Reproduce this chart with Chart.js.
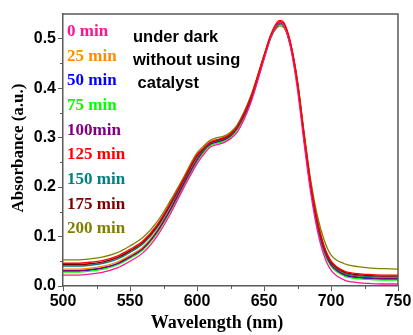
<!DOCTYPE html>
<html>
<head>
<meta charset="utf-8">
<script src="https://cdn.jsdelivr.net/npm/chart.js@4"></script>
<style>
  html, body { margin: 0; padding: 0; background: #fff; }
  #wrap { width: 413px; height: 335px; }
</style>
</head>
<body>
<div id="wrap"><canvas id="chart" width="413" height="335"></canvas></div>
<script>
const wavelengths = [500, 510, 520, 530, 540, 550, 560, 570, 580, 590, 600, 605, 610, 615, 620, 625, 630, 640, 650, 655, 660, 662, 665, 670, 675, 680, 685, 690, 695, 700, 710, 720, 730, 740, 750];

const seriesNames = ['0 min', '25 min', '50 min', '75 min', '100min', '125 min', '150 min', '175 min', '200 min'];
const seriesColors = ['#ff1493', '#ff8c00', '#0000ff', '#00ff00', '#800080', '#ff0000', '#008080', '#800000', '#808000'];

const abs0 = [0.022, 0.022, 0.024, 0.028, 0.036, 0.050, 0.068, 0.100, 0.145, 0.198, 0.247, 0.266, 0.281, 0.286, 0.290, 0.298, 0.311, 0.369, 0.458, 0.502, 0.529, 0.533, 0.527, 0.480, 0.397, 0.287, 0.186, 0.110, 0.060, 0.032, 0.012, 0.007, 0.005, 0.004, 0.004];
const abs25 = [0.034, 0.034, 0.036, 0.040, 0.048, 0.062, 0.080, 0.112, 0.157, 0.208, 0.257, 0.276, 0.289, 0.294, 0.298, 0.306, 0.321, 0.376, 0.463, 0.505, 0.531, 0.535, 0.529, 0.486, 0.407, 0.297, 0.196, 0.122, 0.072, 0.044, 0.024, 0.019, 0.017, 0.016, 0.016];
const abs50 = [0.030, 0.030, 0.032, 0.036, 0.044, 0.058, 0.076, 0.108, 0.153, 0.205, 0.254, 0.273, 0.286, 0.291, 0.295, 0.303, 0.318, 0.374, 0.461, 0.503, 0.528, 0.532, 0.527, 0.484, 0.406, 0.296, 0.195, 0.120, 0.070, 0.042, 0.022, 0.017, 0.015, 0.014, 0.014];
const abs75 = [0.028, 0.028, 0.030, 0.034, 0.042, 0.056, 0.074, 0.106, 0.151, 0.203, 0.252, 0.271, 0.284, 0.289, 0.293, 0.301, 0.316, 0.373, 0.460, 0.501, 0.526, 0.530, 0.525, 0.482, 0.404, 0.294, 0.193, 0.118, 0.068, 0.040, 0.020, 0.015, 0.013, 0.012, 0.012];
const abs100 = [0.031, 0.031, 0.033, 0.037, 0.045, 0.059, 0.077, 0.109, 0.154, 0.206, 0.255, 0.274, 0.287, 0.292, 0.296, 0.304, 0.319, 0.375, 0.462, 0.503, 0.527, 0.531, 0.526, 0.484, 0.407, 0.297, 0.196, 0.121, 0.071, 0.043, 0.023, 0.018, 0.016, 0.015, 0.015];
const abs125 = [0.046, 0.046, 0.048, 0.052, 0.060, 0.074, 0.092, 0.123, 0.167, 0.216, 0.265, 0.279, 0.291, 0.296, 0.300, 0.308, 0.323, 0.381, 0.466, 0.508, 0.534, 0.537, 0.532, 0.490, 0.413, 0.305, 0.205, 0.130, 0.080, 0.051, 0.030, 0.025, 0.023, 0.022, 0.022];
const abs150 = [0.040, 0.040, 0.042, 0.046, 0.054, 0.068, 0.086, 0.117, 0.162, 0.212, 0.261, 0.276, 0.289, 0.294, 0.298, 0.306, 0.321, 0.379, 0.464, 0.503, 0.526, 0.530, 0.525, 0.485, 0.409, 0.301, 0.201, 0.126, 0.076, 0.047, 0.026, 0.021, 0.019, 0.018, 0.018];
const abs175 = [0.043, 0.043, 0.045, 0.049, 0.057, 0.071, 0.089, 0.120, 0.165, 0.214, 0.263, 0.278, 0.290, 0.295, 0.299, 0.307, 0.322, 0.380, 0.465, 0.506, 0.530, 0.534, 0.529, 0.488, 0.412, 0.304, 0.203, 0.128, 0.078, 0.049, 0.028, 0.023, 0.021, 0.020, 0.020];
const abs200 = [0.053, 0.053, 0.055, 0.059, 0.067, 0.081, 0.099, 0.129, 0.172, 0.220, 0.269, 0.283, 0.295, 0.300, 0.303, 0.311, 0.326, 0.383, 0.466, 0.504, 0.523, 0.526, 0.522, 0.486, 0.415, 0.309, 0.212, 0.140, 0.092, 0.063, 0.045, 0.039, 0.036, 0.035, 0.034];

const allSeries = [abs0, abs25, abs50, abs75, abs100, abs125, abs150, abs175, abs200];

const xTicks = [500, 550, 600, 650, 700, 750];
const xMinorTicks = [525, 575, 625, 675, 725];
const yTicks = [0.0, 0.1, 0.2, 0.3, 0.4, 0.5];
const yMinorTicks = [0.05, 0.15, 0.25, 0.35, 0.45];

const noteLines = ['under dark', 'without using', ' catalyst'];
const xTitle = 'Wavelength (nm)';
const yTitle = 'Absorbance (a.u.)';

const axisColor = '#5a5a5a';
const serif = '"Liberation Serif", "Times New Roman", serif';
const sans = '"Liberation Sans", Arial, sans-serif';

// pink and red drawn last so they sit on top, like the original
const datasets = allSeries.map((vals, i) => ({
    label: seriesNames[i],
    data: vals.map((v, j) => ({ x: wavelengths[j], y: v })),
    borderColor: seriesColors[i],
    borderWidth: 1.3,
    pointRadius: 0,
    fill: false,
    cubicInterpolationMode: 'monotone',
    order: i === 5 ? -1 : (i === 0 ? 0 : 9 - i)
}));

const decorPlugin = {
    id: 'decor',
    afterDraw(chart) {
        const ctx = chart.ctx;
        const area = chart.chartArea;
        const xs = chart.scales.x;
        const ys = chart.scales.y;
        ctx.save();

        // frame on top & right
        ctx.strokeStyle = axisColor;
        ctx.lineWidth = 1.5;
        ctx.beginPath();
        ctx.moveTo(area.left, area.top);
        ctx.lineTo(area.right, area.top);
        ctx.lineTo(area.right, area.bottom);
        ctx.stroke();

        // minor ticks
        ctx.lineWidth = 1;
        ctx.beginPath();
        xMinorTicks.forEach(t => {
            const px = Math.round(xs.getPixelForValue(t)) + 0.5;
            ctx.moveTo(px, area.bottom);
            ctx.lineTo(px, area.bottom + 3);
        });
        yMinorTicks.forEach(t => {
            const py = Math.round(ys.getPixelForValue(t)) + 0.5;
            ctx.moveTo(area.left, py);
            ctx.lineTo(area.left - 3, py);
        });
        ctx.stroke();

        // axis titles
        ctx.fillStyle = '#000';
        ctx.font = 'bold 18px ' + serif;
        ctx.textAlign = 'center';
        ctx.textBaseline = 'middle';
        ctx.fillText(xTitle, 217, 323);
        ctx.save();
        ctx.translate(19, 148);
        ctx.rotate(-Math.PI / 2);
        ctx.font = 'bold 17px ' + serif;
        ctx.fillText(yTitle, 0, 0);
        ctx.restore();

        // legend text
        ctx.font = 'bold 17px ' + serif;
        ctx.textAlign = 'left';
        seriesNames.forEach((name, i) => {
            ctx.fillStyle = seriesColors[i];
            ctx.fillText(name, 67, 31.5 + i * 24.7);
        });

        // note
        ctx.font = 'bold 16.5px ' + sans;
        ctx.fillStyle = '#000';
        noteLines.forEach((line, i) => {
            ctx.fillText(line, 133, 37 + i * 23.3);
        });
        ctx.restore();
    }
};

new Chart(document.getElementById('chart'), {
    type: 'line',
    data: { datasets },
    options: {
        responsive: false,
        animation: false,
        layout: { padding: { left: 0, top: 14, right: 15, bottom: 0 } },
        plugins: { legend: { display: false }, tooltip: { enabled: false } },
        scales: {
            x: {
                type: 'linear',
                min: 500,
                max: 750,
                afterBuildTicks: (s) => { s.ticks = xTicks.map(v => ({ value: v })); },
                afterFit: (s) => { s.height = 49; },
                ticks: {
                    color: '#000',
                    font: { family: sans, size: 16, weight: 'bold' },
                    padding: 1,
                    maxRotation: 0
                },
                grid: { drawOnChartArea: false, drawTicks: true, tickLength: 5, color: axisColor },
                border: { display: true, color: axisColor, width: 1.5 }
            },
            y: {
                min: 0,
                max: 0.55,
                afterBuildTicks: (s) => { s.ticks = yTicks.map(v => ({ value: v })); },
                afterFit: (s) => { s.width = 63; },
                ticks: {
                    color: '#000',
                    font: { family: sans, size: 16, weight: 'bold' },
                    padding: 2,
                    callback: (v) => v.toFixed(1)
                },
                grid: { drawOnChartArea: false, drawTicks: true, tickLength: 5, color: axisColor },
                border: { display: true, color: axisColor, width: 1.5 }
            }
        }
    },
    plugins: [decorPlugin]
});
</script>
</body>
</html>
